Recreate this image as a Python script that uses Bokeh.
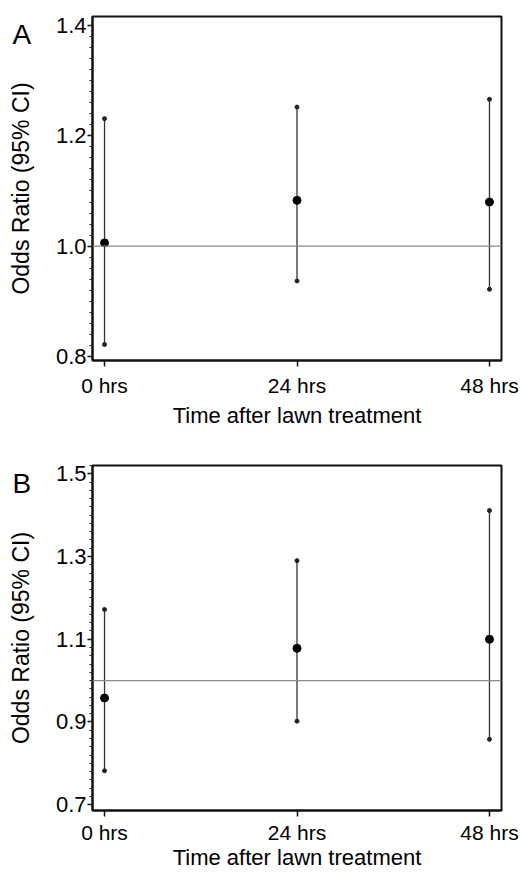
from bokeh.plotting import figure
from bokeh.layouts import column
from bokeh.models import FixedTicker, Span, Label, Range1d, PrintfTickFormatter
from bokeh.embed import file_html
from bokeh.resources import INLINE
import numpy as np

# ---------------- data ----------------
hours = [0, 24, 48]
hour_labels = ["0 hrs", "24 hrs", "48 hrs"]

# Panel A
or_a = [1.006, 1.083, 1.080]
lo_a = [0.822, 0.937, 0.922]
hi_a = [1.231, 1.252, 1.266]
yticks_a = [0.8, 1.0, 1.2, 1.4]

# Panel B
or_b = [0.958, 1.078, 1.100]
lo_b = [0.782, 0.902, 0.858]
hi_b = [1.172, 1.290, 1.411]
yticks_b = [0.7, 0.9, 1.1, 1.3, 1.5]

ref_value = 1.0
x_label = "Time after lawn treatment"
y_label = "Odds Ratio (95% CI)"

FONT = "Liberation Sans"


def make_panel(letter, ors, los, his, yticks, yrange, letter_pos, height,
               border_top, border_bottom, tick_standoff, label_standoff):
    p = figure(width=524, height=height,
               x_range=Range1d(-1.5, 49.5), y_range=Range1d(*yrange),
               output_backend="svg", toolbar_location=None,
               min_border_left=92, min_border_right=23,
               min_border_top=border_top, min_border_bottom=border_bottom)
    p.grid.visible = False
    p.background_fill_color = "white"
    p.border_fill_color = "white"
    p.outline_line_color = "#111111"
    p.outline_line_width = 2
    p.outline_line_alpha = 1.0

    # x axis
    xa = p.xaxis[0]
    xa.ticker = FixedTicker(ticks=hours)
    xa.major_label_overrides = {h: l for h, l in zip(hours, hour_labels)}
    xa.minor_tick_line_color = None
    xa.major_tick_out = 6
    xa.major_tick_in = 0
    xa.major_label_standoff = tick_standoff
    xa.axis_line_width = 2
    xa.axis_line_color = "#111111"
    xa.major_tick_line_width = 1.5
    xa.major_tick_line_color = "#111111"
    xa.axis_label = x_label
    xa.axis_label_standoff = label_standoff
    xa.axis_label_text_font = FONT
    xa.axis_label_text_font_size = "22px"
    xa.axis_label_text_font_style = "normal"
    xa.axis_label_text_color = "black"
    xa.major_label_text_font = FONT
    xa.major_label_text_font_size = "21px"
    xa.major_label_text_color = "black"

    # y axis
    minor = list(np.round(np.arange(yticks[0] - 0.2, yticks[-1] + 0.2, 0.02), 3))
    ya = p.yaxis[0]
    ya.ticker = FixedTicker(ticks=yticks, minor_ticks=minor)
    ya.formatter = PrintfTickFormatter(format="%.1f")
    ya.major_tick_out = 5
    ya.major_tick_in = 0
    ya.minor_tick_out = 3
    ya.minor_tick_in = 0
    ya.major_label_standoff = 1
    ya.axis_line_width = 2
    ya.axis_line_color = "#111111"
    ya.major_tick_line_width = 1.5
    ya.minor_tick_line_width = 1
    ya.major_tick_line_color = "#111111"
    ya.minor_tick_line_color = "#222222"
    ya.axis_label = y_label
    ya.axis_label_standoff = 19
    ya.axis_label_text_font = FONT
    ya.axis_label_text_font_size = "23px"
    ya.axis_label_text_font_style = "normal"
    ya.axis_label_text_color = "black"
    ya.major_label_text_font = FONT
    ya.major_label_text_font_size = "22px"
    ya.major_label_text_color = "black"

    # reference line
    p.add_layout(Span(location=ref_value, dimension="width",
                      line_color="#8a8a8a", line_width=1.2))

    # confidence intervals
    p.segment(x0=hours, y0=los, x1=hours, y1=his,
              line_color="#333333", line_width=1.3)
    p.scatter(x=hours + hours, y=los + his, size=4,
              fill_color="#222222", line_color="#222222")
    # point estimates
    p.scatter(x=hours, y=ors, size=8, fill_color="black", line_color="black")

    p.add_layout(Label(x=letter_pos[0], y=letter_pos[1], text=letter,
                       x_units="canvas", y_units="canvas",
                       text_font=FONT, text_font_size="28px",
                       text_color="black", text_align="left",
                       text_baseline="alphabetic"), "right")
    return p


pa = make_panel("A", or_a, lo_a, hi_a, yticks_a, (0.793, 1.416), (12, 34),
                440, 16, 80, 7, 3)
pb = make_panel("B", or_b, lo_b, hi_b, yticks_b, (0.686, 1.52), (12, 43),
                437, 25, 67, 4, -2)

layout = column(pa, pb, spacing=0)
open("out.html", "w").write(file_html(layout, INLINE))
